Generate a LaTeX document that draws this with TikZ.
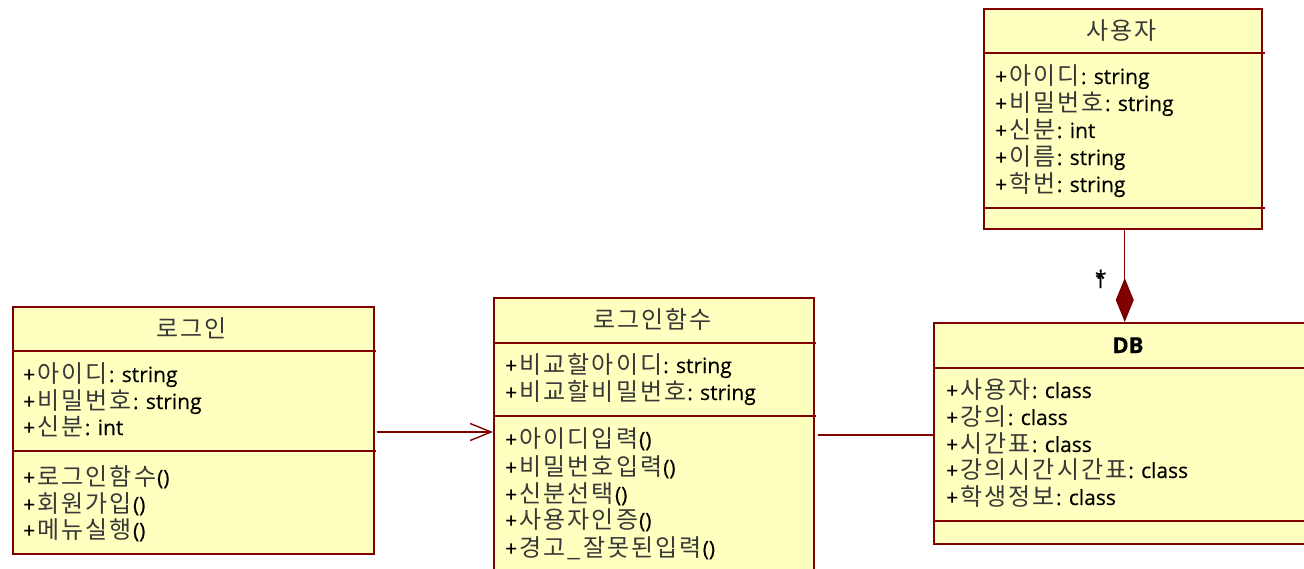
\documentclass[tikz,border=0pt]{standalone}
\usepackage{fontspec}
\setmainfont{Open Sans}[FakeBold=0.35]
\newfontfamily\krfont{Noto Sans CJK KR}
\usetikzlibrary{arrows.meta}
\definecolor{boxfill}{HTML}{FFFFC0}
\definecolor{boxline}{HTML}{800000}
\def\krsp#1{\ifx#1\relax\else#1\kern2pt\expandafter\krsp\fi}
\newcommand\kr[1]{{\fontsize{24}{28}\selectfont\krfont\color{black!78}\krsp#1\relax\kern-1pt}}
\newcommand\pl{+\kern2.5pt}
\tikzset{
  umlbox/.style={draw=boxline, fill=boxfill, line width=1.5pt, inner sep=0pt, anchor=north west},
  sepline/.style={draw=boxline, line width=1.5pt},
  txt/.style={anchor=base west, inner sep=0pt, font=\fontsize{21}{24}\selectfont},
  ttl/.style={anchor=base, inner sep=0pt, font=\fontsize{21}{24}\selectfont},
  conn/.style={draw=boxline, line width=1.4pt},
  mult/.style={anchor=base, inner sep=0pt, font=\fontsize{21}{24}\selectfont}
}
\begin{document}
\begin{tikzpicture}[x=1pt,y=-1pt]
\useasboundingbox (0,0) rectangle (1304,568);
\clip (0,0) rectangle (1304,568);
\fill[white] (0,0) rectangle (1304,568);

% ---- 로그인 ----
\node[umlbox, minimum width=361pt, minimum height=247pt] (login) at (12,306) {};
\draw[sepline] (12,351) -- (376,351);
\draw[sepline] (12,451) -- (376,451);
\node[ttl] (loginT) at (192,337) {\kr{로그인}};
\node[txt] (l1) at (23,382) {\pl\kr{아이디}: string};
\node[txt] (l2) at (23,409) {\pl\kr{비밀번호}: string};
\node[txt] (l3) at (23,435) {\pl\kr{신분}: int};
\node[txt] (l4) at (23,485) {\pl\kr{로그인함수}()};
\node[txt] (l5) at (23,512) {\pl\kr{회원가입}()};
\node[txt] (l6) at (23,538) {\pl\kr{메뉴실행}()};

% ---- 로그인함수 ----
\node[umlbox, minimum width=320pt, minimum height=300pt] (func) at (493,297) {};
\draw[sepline] (493,343) -- (816,343);
\draw[sepline] (493,416) -- (816,416);
\node[ttl] (funcT) at (653,328) {\kr{로그인함수}};
\node[txt] (f1) at (505,373) {\pl\kr{비교할아이디}: string};
\node[txt] (f2) at (505,400) {\pl\kr{비교할비밀번호}: string};
\node[txt] (f3) at (505,447) {\pl\kr{아이디입력}()};
\node[txt] (f4) at (505,475) {\pl\kr{비밀번호입력}()};
\node[txt] (f5) at (505,502) {\pl\kr{신분선택}()};
\node[txt] (f6) at (505,528) {\pl\kr{사용자인증}()};
\node[txt] (f7) at (505,556) {\pl\kr{경고\_잘못된입력}()};

% ---- 사용자 ----
\node[umlbox, minimum width=278pt, minimum height=220pt] (user) at (983,8) {};
\draw[sepline] (983,53) -- (1265,53);
\draw[sepline] (983,208) -- (1265,208);
\node[ttl] (userT) at (1122,39) {\kr{사용자}};
\node[txt] (u1) at (995,84) {\pl\kr{아이디}: string};
\node[txt] (u2) at (995,111) {\pl\kr{비밀번호}: string};
\node[txt] (u3) at (995,138) {\pl\kr{신분}: int};
\node[txt] (u4) at (995,165) {\pl\kr{이름}: string};
\node[txt] (u5) at (995,192) {\pl\kr{학번}: string};

% ---- DB ----
\node[umlbox, minimum width=390pt, minimum height=221pt] (db) at (933,322) {};
\draw[sepline] (933,368) -- (1330,368);
\draw[sepline] (933,521) -- (1330,521);
\node[ttl, font=\fontsize{22}{26}\selectfont\bfseries] (dbT) at (1128,353) {DB};
\node[txt] (d1) at (946,398) {\pl\kr{사용자}: class};
\node[txt] (d2) at (946,425) {\pl\kr{강의}: class};
\node[txt] (d3) at (946,452) {\pl\kr{시간표}: class};
\node[txt] (d4) at (946,478) {\pl\kr{강의시간시간표}: class};
\node[txt] (d5) at (946,505) {\pl\kr{학생정보}: class};

% ---- connectors ----
\draw[conn, -{Straight Barb[length=21pt,width=17pt,line width=1.4pt]}]
  ([xshift=2pt]login.east |- 0,432) -- (func.west |- 0,432);
\draw[conn] ([xshift=3pt]func.east |- 0,435) -- (db.west |- 0,435);
\draw[conn, -{Diamond[length=44pt,width=18pt,fill=boxline]}]
  ([xshift=2pt]user.south) -- ([xshift=2pt]user.south |- db.north);
\node[mult] (mlabel) at (1100,288) {\rlap{\hspace{1pt}\raisebox{2.5pt}{*}}1};
\end{tikzpicture}
\end{document}
